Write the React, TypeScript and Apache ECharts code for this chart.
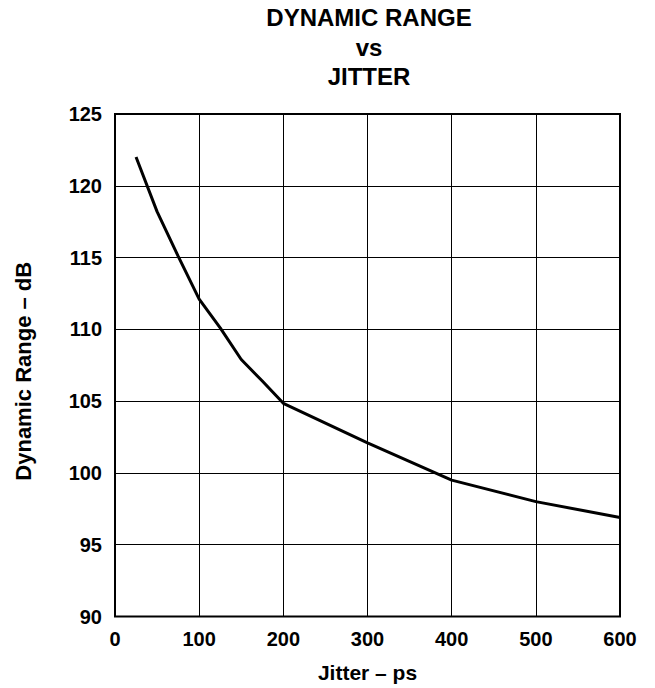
import React, { useEffect, useRef } from "react";
import * as echarts from "echarts";

const jitterPs = [25, 50, 75, 100, 125, 150, 175, 200, 300, 400, 500, 600];
const dynamicRangeDb = [122, 118.2, 115.1, 112.1, 110.1, 107.9, 106.4, 104.85, 102.1, 99.5, 98, 96.9];
const titleLines = ["DYNAMIC RANGE", "vs", "JITTER"];
const xAxisName = "Jitter – ps";
const yAxisName = "Dynamic Range – dB";

export default function App() {
  const ref = useRef<HTMLDivElement>(null);
  useEffect(() => {
    if (!ref.current) return;
    const chart = echarts.init(ref.current, undefined, { renderer: "svg" });
    const font = "'Liberation Sans', Arial, sans-serif";
    chart.setOption({
      animation: false,
      backgroundColor: "#ffffff",
      title: {
        text: titleLines.join("\n"),
        left: 369,
        top: 3,
        padding: 0,
        textAlign: "center",
        textStyle: {
          fontFamily: font,
          fontWeight: "bold",
          fontSize: 24,
          lineHeight: 29.5,
          color: "#000",
        },
      },
      grid: {
        left: 115,
        right: 35,
        top: 114,
        bottom: 70,
        show: true,
        borderColor: "#000",
        borderWidth: 2,
      },
      xAxis: {
        type: "value",
        min: 0,
        max: 600,
        interval: 100,
        name: xAxisName,
        nameLocation: "middle",
        nameGap: 56,
        nameTextStyle: { fontFamily: font, fontWeight: "bold", fontSize: 21, color: "#000", verticalAlign: "middle" },
        axisLine: { show: false },
        axisTick: { show: false },
        axisLabel: { margin: 12, fontFamily: font, fontWeight: "bold", fontSize: 20, color: "#000" },
        splitLine: { show: true, lineStyle: { color: "#000", width: 1 } },
      },
      yAxis: {
        type: "value",
        min: 90,
        max: 125,
        interval: 5,
        name: yAxisName,
        nameLocation: "middle",
        nameGap: 92,
        nameRotate: 90,
        nameTextStyle: {
          fontFamily: font,
          fontWeight: "bold",
          fontSize: 22,
          color: "#000",
          verticalAlign: "middle",
          padding: [0, 12, 0, 0],
        },
        axisLine: { show: false },
        axisTick: { show: false },
        axisLabel: { margin: 13, fontFamily: font, fontWeight: "bold", fontSize: 20, color: "#000" },
        splitLine: { show: true, lineStyle: { color: "#000", width: 1 } },
      },
      series: [
        {
          type: "line",
          data: jitterPs.map((x, i) => [x, dynamicRangeDb[i]]),
          showSymbol: false,
          symbol: "none",
          lineStyle: { color: "#000", width: 3 },
          z: 5,
        },
      ],
    });
    return () => chart.dispose();
  }, []);
  return (
    <div
      ref={ref}
      style={{ position: "fixed", left: 0, top: 0, width: 655, height: 688 }}
    />
  );
}
